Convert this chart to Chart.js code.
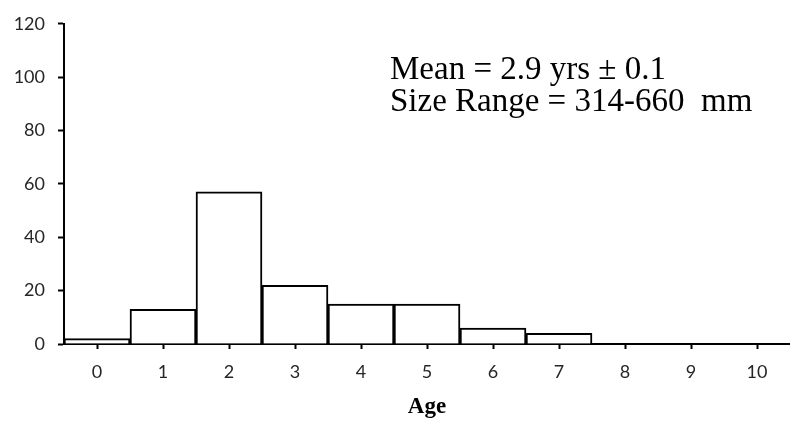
<!DOCTYPE html>
<html>
<head>
<meta charset="utf-8">
<script src="https://cdn.jsdelivr.net/npm/chart.js@4.4.0/dist/chart.umd.min.js"></script>
<style>
  html, body { margin: 0; padding: 0; background: #fff; }
  #wrap { width: 790px; height: 421px; }
</style>
</head>
<body>
<div id="wrap"><canvas id="grafica"></canvas></div>
<script>
// edades y numero de peces por edad
var edades = ['0', '1', '2', '3', '4', '5', '6', '7', '8', '9', '10'];
var conteos = [2, 13, 57, 22, 15, 15, 6, 4, 0, 0, 0];
var ticksY = [0, 20, 40, 60, 80, 100, 120];
var textoMedia = 'Mean = 2.9 yrs \u00B1 0.1';
var textoRango = 'Size Range = 314-660  mm';

// texto con la media y el rango de tallas
var notaPlugin = {
  id: 'nota',
  afterDraw: function(chart) {
    var ctx = chart.ctx;
    var x = chart.scales.x;
    var y = chart.scales.y;
    ctx.save();
    ctx.fillStyle = '#000';
    ctx.font = '33px "Liberation Serif", "Times New Roman", serif';
    ctx.textBaseline = 'alphabetic';
    var izq = x.getPixelForValue(4) + 29;
    ctx.fillText(textoMedia, izq, y.getPixelForValue(99.2));
    ctx.fillText(textoRango, izq, y.getPixelForValue(87.3));
    ctx.restore();
  }
};

var ctx = document.getElementById('grafica').getContext('2d');
var chart = new Chart(ctx, {
  type: 'bar',
  data: {
    labels: edades,
    datasets: [{
      data: conteos,
      backgroundColor: '#fff',
      borderColor: '#000',
      borderWidth: 2,
      barPercentage: 1,
      categoryPercentage: 1
    }]
  },
  options: {
    responsive: true,
    maintainAspectRatio: false,
    animation: false,
    layout: { padding: { top: 21, right: 0, left: 0, bottom: 0 } },
    plugins: {
      legend: { display: false },
      tooltip: { enabled: false }
    },
    scales: {
      x: {
        grid: {
          offset: false,
          drawOnChartArea: false,
          drawTicks: true,
          tickLength: 5,
          tickWidth: 2,
          color: '#000'
        },
        border: { color: '#000', width: 2 },
        ticks: {
          color: '#262626',
          font: { family: 'Lato, "Open Sans", sans-serif', size: 18 },
          padding: 12
        },
        title: {
          display: true,
          text: 'Age',
          color: '#000',
          font: { family: '"Liberation Serif", "Times New Roman", serif', size: 23, weight: 'bold' },
          padding: { top: 7, bottom: 0 }
        },
        afterFit: function(scale) { scale.height = 77; }
      },
      y: {
        min: 0,
        max: 120,
        afterBuildTicks: function(scale) {
          scale.ticks = ticksY.map(function(v) { return { value: v }; });
        },
        grid: {
          drawOnChartArea: false,
          drawTicks: true,
          tickLength: 6,
          tickWidth: 2,
          color: '#000'
        },
        border: { color: '#000', width: 2 },
        ticks: {
          color: '#262626',
          font: { family: 'Lato, "Open Sans", sans-serif', size: 18 },
          padding: 13
        },
        afterFit: function(scale) { scale.width = 64; }
      }
    }
  },
  plugins: [notaPlugin]
});
</script>
</body>
</html>
